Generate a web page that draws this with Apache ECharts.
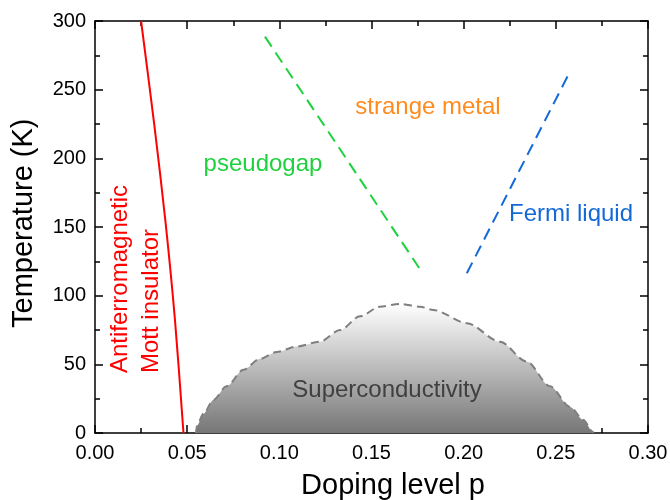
<!DOCTYPE html>
<html>
<head>
<meta charset="utf-8">
<title>Cuprate phase diagram</title>
<script src="https://cdn.jsdelivr.net/npm/echarts@6/dist/echarts.min.js"></script>
<style>
  html, body { margin: 0; padding: 0; background: #ffffff; }
  #chart { width: 670px; height: 500px; }
</style>
</head>
<body>
<div id="chart"></div>
<script>
// Doping level p vs temperature T (K)

// Antiferromagnetic / Mott insulator boundary
const afmBoundary = [
  [0.0250, 300], [0.0322, 224], [0.0383, 153], [0.0434, 82], [0.0480, 0]
];

// Pseudogap crossover T*
const pseudogapLine = [[0.0922, 288.6], [0.1778, 116.3]];

// Fermi-liquid crossover
const fermiLine = [[0.2017, 116.3], [0.2577, 263.2]];

// Superconducting dome Tc(p)
const domeTc = [
  [0.0548, 0], [0.0552, 5], [0.0588, 14], [0.0642, 24], [0.0714, 34],
  [0.0805, 46], [0.0895, 54], [0.0986, 59], [0.1094, 63], [0.1220, 66.5],
  [0.1330, 75], [0.1438, 85], [0.1546, 92], [0.1655, 94], [0.1763, 92],
  [0.1836, 89.5], [0.2017, 80], [0.2197, 66.5], [0.2342, 52], [0.2469, 34],
  [0.2577, 19], [0.2650, 9.5], [0.2700, 1], [0.2705, 0]
];

// Axis ranges and tick steps
const xRange = [0, 0.30], xStep = 0.05;
const yRange = [0, 300], yStep = 50;

// Text
const axisTitles = ['Doping level p', 'Temperature (K)'];
const regionLabels = ['strange metal', 'pseudogap', 'Fermi liquid', 'Superconductivity',
                      'Antiferromagnetic', 'Mott insulator'];

const FONT = '"Liberation Sans", Arial, Helvetica, sans-serif';

const chart = echarts.init(document.getElementById('chart'), null, { renderer: 'canvas' });

function makeAxis(kind, pos, showLabels) {
  const isX = kind === 'x';
  return {
    type: 'value',
    position: pos,
    min: isX ? xRange[0] : yRange[0],
    max: isX ? xRange[1] : yRange[1],
    interval: isX ? xStep : yStep,
    splitLine: { show: false },
    axisLine: { show: true, onZero: false, lineStyle: { color: '#000', width: 1.5 } },
    axisTick: { show: true, inside: true, length: 8, lineStyle: { color: '#000', width: 1.5 } },
    minorTick: { show: true, splitNumber: 2, length: 5, lineStyle: { color: '#000', width: 1.5 } },
    axisLabel: {
      show: showLabels,
      margin: isX ? 10 : 9,
      fontFamily: FONT,
      fontSize: 20,
      color: '#000',
      formatter: v => isX ? v.toFixed(2) : String(Math.round(v))
    }
  };
}

function label(text, x, y, color, size, rot) {
  return {
    type: 'text',
    x: x, y: y,
    rotation: rot || 0,
    silent: true,
    z: 100,
    style: {
      text: text,
      fill: color,
      font: size + 'px ' + FONT,
      textAlign: rot ? 'left' : 'center',
      textVerticalAlign: 'middle',
      align: rot ? 'left' : 'center',
      verticalAlign: 'middle'
    }
  };
}

const option = {
  backgroundColor: '#ffffff',
  animation: false,
  grid: { left: 95, right: 22, top: 21, bottom: 67, containLabel: false, outerBoundsMode: 'none' },
  xAxis: [makeAxis('x', 'bottom', true), makeAxis('x', 'top', false)],
  yAxis: [makeAxis('y', 'left', true), makeAxis('y', 'right', false)],
  series: [
    {
      name: 'dome',
      type: 'line',
      data: domeTc,
      showSymbol: false,
      smooth: 0.3,
      smoothMonotone: 'x',
      z: 1,
      lineStyle: { color: '#7f7f7f', width: 2, type: [8, 5] },
      areaStyle: {
        opacity: 1,
        color: {
          type: 'linear', x: 0, y: 0, x2: 0, y2: 1,
          colorStops: [
            { offset: 0, color: '#ffffff' },
            { offset: 1, color: '#767676' }
          ]
        }
      }
    },
    {
      name: 'afm',
      type: 'line',
      data: afmBoundary,
      showSymbol: false,
      smooth: 0.3,
      z: 3,
      lineStyle: { color: '#ff0000', width: 2 }
    },
    {
      name: 'pseudogap',
      type: 'line',
      data: pseudogapLine,
      showSymbol: false,
      z: 3,
      lineStyle: { color: '#1fd13f', width: 2, type: [12, 7] }
    },
    {
      name: 'fermi',
      type: 'line',
      data: fermiLine,
      showSymbol: false,
      z: 3,
      lineStyle: { color: '#1469d8', width: 2, type: [12, 7] }
    }
  ],
  graphic: [
    label(axisTitles[0], 393, 486, '#000', 29),
    label(axisTitles[1], 24, 328, '#000', 29, Math.PI / 2),
    label(regionLabels[0], 428, 107, '#ff8a1e', 24),
    label(regionLabels[1], 263, 164, '#1fd13f', 24),
    label(regionLabels[2], 571, 214, '#1469d8', 24),
    label(regionLabels[3], 387, 390, '#404040', 24),
    label(regionLabels[4], 120, 373, '#ff0000', 24, Math.PI / 2),
    label(regionLabels[5], 151, 373, '#ff0000', 24, Math.PI / 2)
  ]
};

chart.setOption(option);
</script>
</body>
</html>
